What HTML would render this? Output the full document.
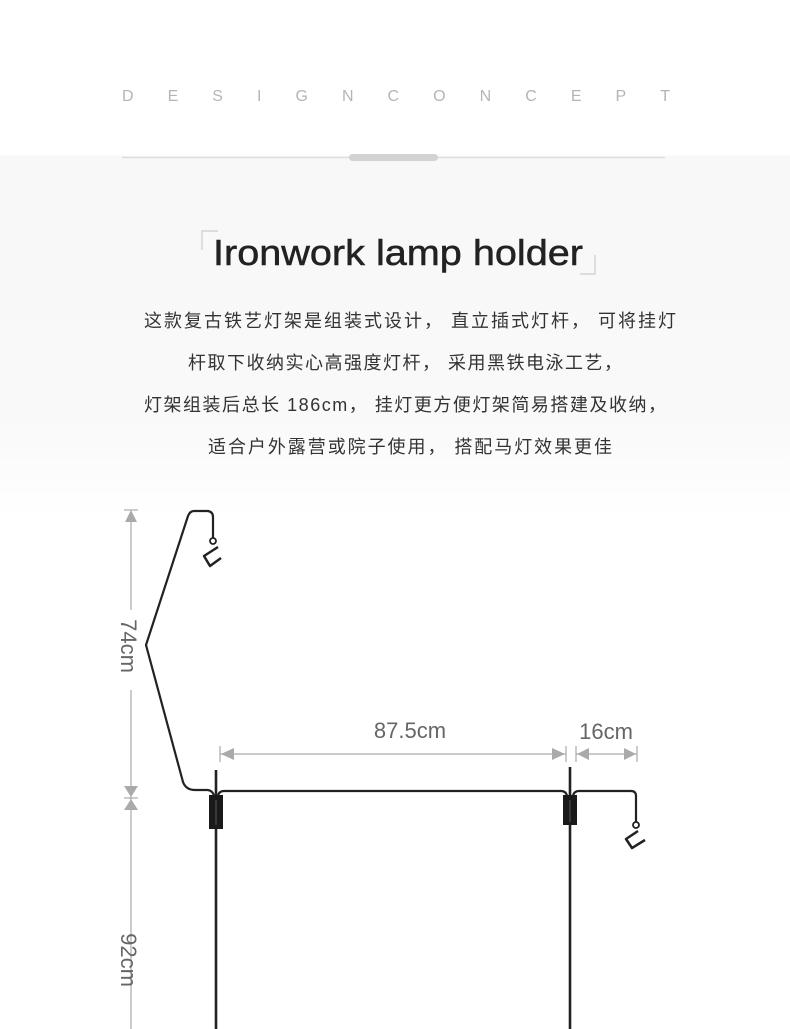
<!DOCTYPE html>
<html><head><meta charset="utf-8"><style>
html,body{margin:0;padding:0}
body{width:790px;height:1029px;overflow:hidden;background:linear-gradient(#fff 0,#fff 155px,#f8f8f8 156px,#f9f9f9 420px,#fff 520px,#fff 100%);}
svg{display:block}
</style></head><body>
<svg width="790" height="1029" xmlns="http://www.w3.org/2000/svg" font-family="Liberation Sans, Noto Sans CJK SC, sans-serif">
<text x="122" y="101" font-size="16" fill="#b5b5b5" textLength="548" lengthAdjust="spacing">DESIGNCONCEPT</text>
<line x1="122" y1="157.5" x2="665" y2="157.5" stroke="#ddd" stroke-width="1.5"/>
<rect x="349" y="154" width="89" height="7" rx="3.5" fill="#d3d3d3"/>
<path d="M202 250 V231 H218" fill="none" stroke="#ccc" stroke-width="1.2"/>
<path d="M595 255 V274 H580" fill="none" stroke="#ccc" stroke-width="1.2"/>
<text x="398" y="265" font-size="36" fill="#222" text-anchor="middle" textLength="370" lengthAdjust="spacingAndGlyphs" stroke="#222" stroke-width="0.5">Ironwork lamp holder</text>
<g font-size="18" fill="#333" font-family="Liberation Sans, Noto Sans CJK SC, sans-serif">
<text x="144" y="327" textLength="532">这款复古铁艺灯架是组装式设计， 直立插式灯杆， 可将挂灯</text>
<text x="188" y="369" textLength="434">杆取下收纳实心高强度灯杆， 采用黑铁电泳工艺，</text>
<text x="144" y="411" textLength="522">灯架组装后总长 186cm， 挂灯更方便灯架简易搭建及收纳，</text>
<text x="208" y="453" textLength="404">适合户外露营或院子使用， 搭配马灯效果更佳</text>
</g>
<g stroke="#aaa" stroke-width="1.2" fill="#aaa">
<line x1="131" y1="512" x2="131" y2="610"/>
<line x1="131" y1="690" x2="131" y2="1029"/>
<path d="M131 510 L125 522 H137 Z" stroke="none"/>
<path d="M124 786 H138 L131 797 Z" stroke="none"/>
<path d="M124 810 H138 L131 799 Z" stroke="none"/>
<line x1="124" y1="798" x2="138" y2="798"/>
<line x1="124" y1="510" x2="138" y2="510"/>
<line x1="220" y1="754" x2="566" y2="754"/>
<line x1="220" y1="746" x2="220" y2="762"/>
<line x1="566" y1="746" x2="566" y2="762"/>
<path d="M221 754 L234 748 V760 Z" stroke="none"/>
<path d="M565 754 L552 748 V760 Z" stroke="none"/>
<line x1="576" y1="754" x2="637" y2="754"/>
<line x1="576" y1="746" x2="576" y2="762"/>
<line x1="637" y1="746" x2="637" y2="762"/>
<path d="M577 754 L589 748 V760 Z" stroke="none"/>
<path d="M636 754 L624 748 V760 Z" stroke="none"/>
</g>
<text x="410" y="738" font-size="22" fill="#666" text-anchor="middle">87.5cm</text>
<text x="606" y="739" font-size="22" fill="#666" text-anchor="middle">16cm</text>
<text transform="translate(121,646) rotate(90)" font-size="22" fill="#666" text-anchor="middle">74cm</text>
<text transform="translate(121,960) rotate(90)" font-size="22" fill="#666" text-anchor="middle">92cm</text>
<g fill="none" stroke="#222" stroke-width="2.2" stroke-linejoin="round">
<path d="M213 538 V517 Q213 512 208 511 H194 Q190 511 188 516 L146 645 L183 782 Q186 790 195 790 H208 Q213 791 214 796"/>
<path d="M218 796 Q219 791 224 791 H561 Q566 791 567 796"/>
<path d="M573 796 Q574 791 579 791 H631 Q636 791 636 796 V822"/>
<line x1="216" y1="770" x2="216" y2="1029" stroke-width="2.6"/>
<line x1="570" y1="767" x2="570" y2="1029" stroke-width="2.6"/>
<path d="M218 547 L204 556 L210 566 L221 558" stroke-width="2.5"/>
<path d="M638 831 L626 839 L632 848 L645 840" stroke-width="2.5"/>
</g>
<circle cx="213" cy="541" r="3" fill="none" stroke="#222" stroke-width="1.8"/>
<circle cx="636" cy="825" r="3" fill="none" stroke="#222" stroke-width="1.8"/>
<rect x="209" y="795" width="14" height="34" fill="#1a1a1a"/>
<rect x="563" y="795" width="14" height="30" fill="#1a1a1a"/>
<line x1="216" y1="800" x2="216" y2="825" stroke="#555" stroke-width="1"/>
<line x1="570" y1="800" x2="570" y2="822" stroke="#555" stroke-width="1"/>
</svg>
</body></html>
